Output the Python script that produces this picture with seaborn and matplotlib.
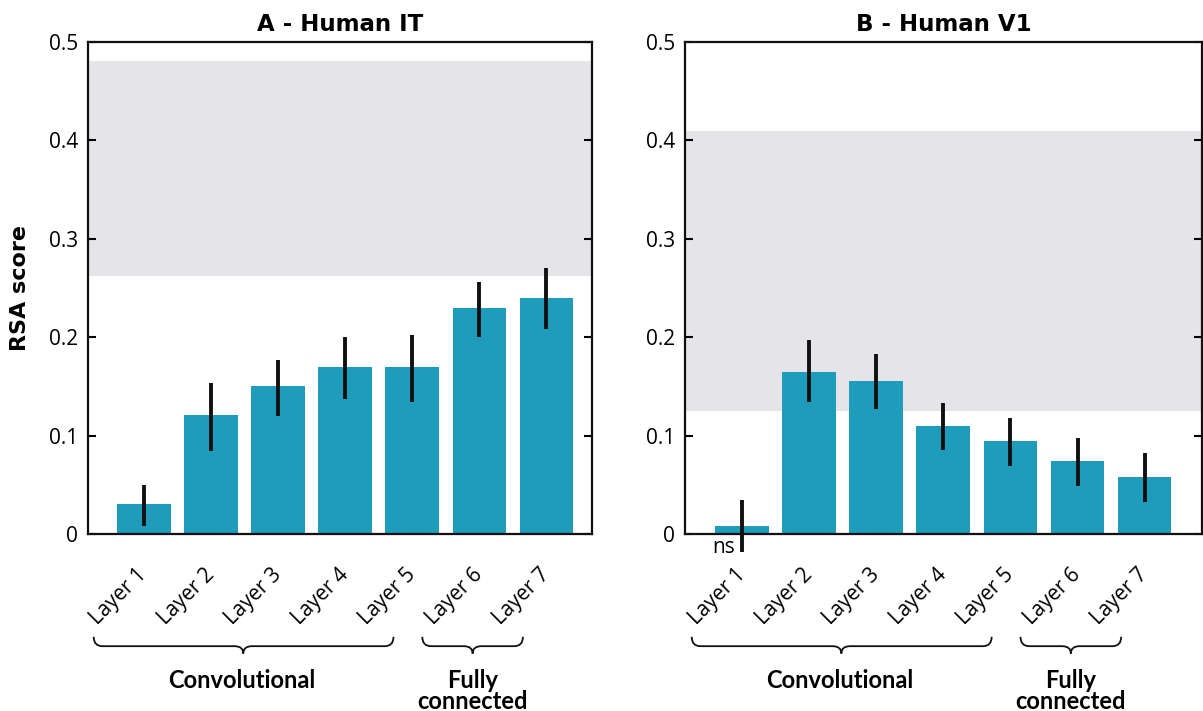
import numpy as np
import pandas as pd
import seaborn as sns
import matplotlib.pyplot as plt
from matplotlib.path import Path
from matplotlib.patches import PathPatch
import matplotlib.transforms as mtransforms

# values
layers = ['Layer 1', 'Layer 2', 'Layer 3', 'Layer 4', 'Layer 5', 'Layer 6', 'Layer 7']
it_score = [0.030, 0.121, 0.150, 0.170, 0.170, 0.230, 0.240]
it_lo = [0.008, 0.084, 0.120, 0.137, 0.134, 0.200, 0.208]
it_hi = [0.050, 0.153, 0.177, 0.200, 0.202, 0.256, 0.270]
it_ceiling = [0.262, 0.481]

v1_score = [0.008, 0.165, 0.155, 0.110, 0.095, 0.074, 0.058]
v1_lo = [-0.018, 0.134, 0.127, 0.085, 0.069, 0.049, 0.033]
v1_hi = [0.035, 0.197, 0.183, 0.133, 0.118, 0.098, 0.082]
v1_ceiling = [0.125, 0.410]

yticks = [0, 0.1, 0.2, 0.3, 0.4, 0.5]
ytick_labels = ['0', '0.1', '0.2', '0.3', '0.4', '0.5']

bar_color = '#1f9bbb'
band_color = '#e5e5e9'

sns.set_style('ticks')
plt.rcParams['font.family'] = ['Open Sans', 'DejaVu Sans']
plt.rcParams['text.color'] = 'black'
plt.rcParams['xtick.color'] = 'black'
plt.rcParams['ytick.color'] = 'black'
plt.rcParams['axes.labelcolor'] = 'black'

fig = plt.figure(figsize=(12.03, 7.11), dpi=100)
ax_it = fig.add_axes([0.07315, 0.24894, 0.41895, 0.69198])
ax_v1 = fig.add_axes([0.56941, 0.24894, 0.42976, 0.69198])


def brace(ax, x0, x1, xc, top=-0.209, mid=-0.228, tip=-0.243, r=0.13):
    trans = mtransforms.blended_transform_factory(ax.transData, ax.transAxes)
    verts = [(x0, top), (x0, mid), (x0 + r, mid),
             (xc - r, mid), (xc, mid), (xc, tip),
             (xc, mid), (xc + r, mid),
             (x1 - r, mid), (x1, mid), (x1, top)]
    codes = [Path.MOVETO, Path.CURVE3, Path.CURVE3,
             Path.LINETO, Path.CURVE3, Path.CURVE3,
             Path.CURVE3, Path.CURVE3,
             Path.LINETO, Path.CURVE3, Path.CURVE3]
    patch = PathPatch(Path(verts, codes), transform=trans, fill=False,
                      lw=1.3, color='#111111', clip_on=False)
    ax.add_patch(patch)


def panel(ax, title, score, lo, hi, ceiling, xlim, ylabel=None):
    df = pd.DataFrame({'layer': layers, 'score': score})
    ax.axhspan(ceiling[0], ceiling[1], color=band_color, lw=0, zorder=0)
    sns.barplot(data=df, x='layer', y='score', ax=ax, color=bar_color,
                saturation=1, width=0.8, errorbar=None, linewidth=0, zorder=2)
    ax.vlines(np.arange(len(layers)), lo, hi, color='#111111', lw=2.8,
              zorder=3, clip_on=False)
    ax.set_xlim(*xlim)
    ax.set_ylim(0, 0.5)
    ax.set_yticks(yticks)
    ax.set_yticklabels(ytick_labels, fontsize=15)
    ax.tick_params(axis='y', direction='in', right=True, length=6, width=1.5, pad=7)
    ax.tick_params(axis='x', length=0, pad=27)
    ax.set_xticks(range(len(layers)))
    ax.set_xticklabels(layers, rotation=45, ha='right', va='center',
                       rotation_mode='anchor', fontsize=15)
    for sp in ax.spines.values():
        sp.set_visible(True)
        sp.set_linewidth(1.6)
        sp.set_color('#111111')
    ax.set_xlabel('')
    if ylabel:
        ax.set_ylabel(ylabel, fontsize=16, fontweight='bold', family='DejaVu Sans', labelpad=14)
    else:
        ax.set_ylabel('')
    ax.set_title(title, fontsize=16.5, fontweight='bold', family='DejaVu Sans', pad=8)
    brace(ax, -0.75, 3.72, 1.48)
    brace(ax, 4.15, 5.65, 4.9)
    trans = mtransforms.blended_transform_factory(ax.transData, ax.transAxes)
    ax.text(1.46, -0.297, 'Convolutional', transform=trans, ha='center', va='center',
            fontsize=17, fontweight='bold', family='Lato')
    ax.text(4.9, -0.297, 'Fully', transform=trans, ha='center', va='center',
            fontsize=17, fontweight='bold', family='Lato')
    ax.text(4.9, -0.341, 'connected', transform=trans, ha='center', va='center',
            fontsize=17, fontweight='bold', family='Lato')


panel(ax_it, 'A - Human IT', it_score, it_lo, it_hi, it_ceiling, (-0.835, 6.68), ylabel='RSA score')
panel(ax_v1, 'B - Human V1', v1_score, v1_lo, v1_hi, v1_ceiling, (-0.85, 6.855))

trans = mtransforms.blended_transform_factory(ax_v1.transData, ax_v1.transAxes)
ax_v1.text(-0.27, -0.028, 'ns', transform=trans, ha='center', va='center', fontsize=15)

fig.savefig('out.png', dpi=100)
